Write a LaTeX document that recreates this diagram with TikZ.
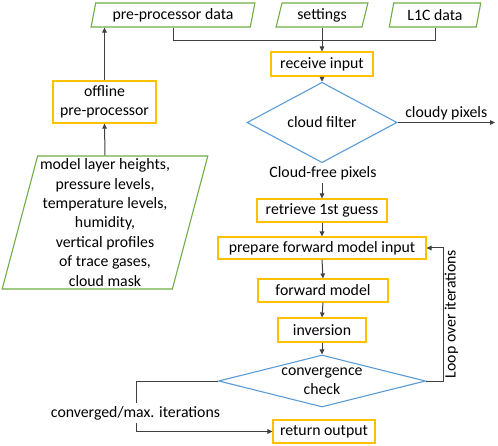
\documentclass[tikz,border=0pt]{standalone}
\usepackage{fontspec}
\setmainfont{Carlito}
\usetikzlibrary{shapes.geometric,arrows.meta}
\definecolor{bgreen}{HTML}{70AD47}
\definecolor{byellow}{HTML}{FFC000}
\definecolor{bblue}{HTML}{5B9BD5}
\definecolor{lin}{HTML}{404040}
\begin{document}
\begin{tikzpicture}[x=1pt,y=-1pt,
  every node/.style={font=\fontsize{15.8}{19.4}\selectfont, text=black},
  datab/.style={trapezium, trapezium left angle=75, trapezium right angle=105,
    trapezium stretches=true, draw=bgreen, line width=1.1pt, inner sep=0pt, align=center},
  procbox/.style={rectangle, draw=byellow, line width=1.1pt, inner sep=0pt, align=center},
  decis/.style={diamond, draw=bblue, line width=1.1pt, inner sep=0pt},
  conn/.style={draw=lin, line width=1pt},
  arr/.style={conn, -{Triangle[length=5pt,width=4.5pt]}},
  lbl/.style={fill=white, inner sep=3pt}
]
\useasboundingbox (0,0) rectangle (498,446);
% inputs
\node[datab, minimum width=164pt, minimum height=24pt] (ppd) at (173,15) {pre-processor data};
\node[datab, minimum width=92pt, minimum height=24pt] (set) at (322,15) {settings};
\node[datab, minimum width=92pt, minimum height=24pt] (l1c) at (435,15) {L1C data};
\node[datab, minimum width=206pt, minimum height=133pt] (mdl) at (105,222.5)
  {model layer heights,\\pressure levels,\\temperature levels,\\humidity,\\vertical profiles\\of trace gases,\\cloud mask};
\node[procbox, minimum width=103pt, minimum height=42pt] (off) at (104.5,102) {offline\\pre-processor};
% main chain
\node[procbox, minimum width=102pt, minimum height=24pt] (recv) at (322,64) {receive input};
\node[decis, minimum width=150pt, minimum height=51pt] (cf) at (322,122.5) {cloud filter};
\node[procbox, minimum width=130pt, minimum height=23pt] (retr) at (322,210.5) {retrieve 1st guess};
\node[procbox, minimum width=208pt, minimum height=22pt] (prep) at (322,248) {prepare forward model input};
\node[procbox, minimum width=130pt, minimum height=23pt] (fwd) at (323,290.5) {forward model};
\node[procbox, minimum width=88pt, minimum height=24pt] (inv) at (322,330) {inversion};
\node[decis, minimum width=207pt, minimum height=52pt,
  label={[align=center, inner sep=0pt, font=\fontsize{15.8}{19}\selectfont]center:convergence\\check}] (conv) at (322,381) {};
\node[procbox, minimum width=102pt, minimum height=23pt] (ret) at (324,431.5) {return output};
% coordinates
\coordinate (join) at (322,41);
\coordinate (cloudyend) at (495,122.5);
\coordinate (loopc) at (443,381);
\coordinate (convc) at (136,381);
% connectors
\draw[conn] (ppd.center |- ppd.south) |- (join);
\draw[conn] (l1c.center |- l1c.south) |- (join);
\draw[arr] (set.center |- set.south) -- (recv.north);
\draw[arr] (mdl.center |- mdl.north) -- (off.south);
\draw[arr] (off.north) -- (off.north |- ppd.south);
\draw[arr] (recv.south) -- (cf.north);
\draw[arr] (cf.east) -- (cloudyend) node[pos=0.5, above=-1pt] (cloudy) {cloudy pixels};
\draw[arr] (cf.south) -- (retr.north);
\node[lbl] (cfree) at (323,173) {Cloud-free pixels};
\draw[arr] (retr.south) -- (prep.north);
\draw[arr] (prep.south) -- (fwd.north);
\draw[arr] (fwd.south) -- (inv.north);
\draw[arr] (inv.south) -- (conv.north);
\draw[arr] (conv.east) -- (loopc) |- (prep.east);
\node[rotate=90, inner sep=0pt] (looplbl) at (451.5,314) {Loop over iterations};
\draw[arr] (conv.west) -- (convc) |- (ret.west);
\node[lbl] (convlbl) at (135.5,413) {converged/max. iterations};
\end{tikzpicture}
\end{document}
